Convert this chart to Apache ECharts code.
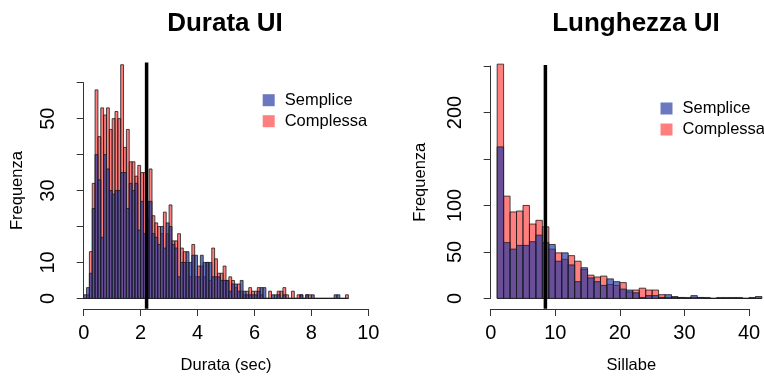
<!DOCTYPE html>
<html>
<head>
<meta charset="utf-8">
<script src="https://cdn.jsdelivr.net/npm/echarts@6/dist/echarts.min.js"></script>
<style>
html,body{margin:0;padding:0;background:#fff;}
#chart{width:764px;height:379px;}
</style>
</head>
<body>
<div id="chart"></div>
<script>
// ---------- DATA ----------
// Durata UI: histogram bins of 0.1 sec starting at 0
const durataBinStart = 0;
const durataBinWidth = 0.1;
const durataSemplice = [1,3,7,25,40,33,17,40,36,30, 29,30,30,35,35,25,32,30,32,19,
  27,18,27,27,18,17,15,20,14,21, 20,15,14,6,10,10,13,10,12,12,
  6,12,10,10,10,6,6,6,5,5, 5,2,4,4,2,5,2,1,1,1,
  1,2,3,3,0,0,1,1,1,0, 1,0,0,0,0,0,1,0,1,0,
  1,0,0,0,0,0,0,0,1,1, 0,0,0];
const durataComplessa = [0,1,13,32,58,45,53,51,53,47, 50,52,50,65,42,47,38,38,34,37,
  35,35,22,36,23,21,20,18,24,18, 26,16,16,18,14,13,10,6,15,6,
  9,9,6,10,5,14,11,7,7,9, 5,6,5,3,4,2,1,2,3,2,
  2,3,1,0,0,2,0,0,2,2, 3,1,0,2,0,1,1,0,1,1,
  0,0,0,0,0,0,0,0,0,0, 0,0,1];
const durataMean = [2.21];

// Lunghezza UI: histogram bins of 1 syllable starting at 1
const sillabeBinStart = 1;
const sillabeBinWidth = 1;
const sillabeSemplice = [163,60,53,57,57,61,68,60,58,40, 49,36,18,33,22,18,14,21,18,10,
  9,6,1,3,3,1,4,1,1,0, 3,1,0,0,1,0,1,0,0,1, 2];
const sillabeComplessa = [252,110,93,94,100,80,84,77,53,49, 42,46,40,31,25,23,24,15,14,17,
  7,9,11,9,9,4,1,2,1,1, 1,1,1,0,0,1,0,1,0,0, 0];
const sillabeMean = [8.47];

// tick labels
const durataXTicks = [0,2,4,6,8,10];
const durataYLabels = [0,10,30,50];
const sillabeXTicks = [0,10,20,30,40];
const sillabeYLabels = [0,50,100,200];

const seriesNames = ['Semplice','Complessa'];
const titles = ['Durata UI','Lunghezza UI'];

// ---------- STYLE / LAYOUT ----------
const FONT = '"Liberation Sans", Arial, sans-serif';
const colSemplice = 'rgba(36,56,162,0.68)';
const colComplessa = 'rgba(255,0,0,0.5)';
const axisCol = '#333';
// vertical extent (data units) of each plot region, for the mean line
const plotYRange = [[-2.9, 65.6], [-11.2, 251]];

function binData(start, width, counts) {
  return counts.map((c, i) => [start + i * width, start + (i + 1) * width, c]);
}

function histSeries(name, idx, data, color) {
  return {
    type: 'custom', name: name, xAxisIndex: idx, yAxisIndex: idx,
    data: data, clip: false, itemStyle: { color: color },
    encode: { x: [0, 1], y: 2 },
    renderItem: function (params, api) {
      const p0 = api.coord([api.value(0), api.value(2)]);
      const p1 = api.coord([api.value(1), 0]);
      return {
        type: 'rect',
        shape: { x: p0[0], y: p0[1], width: p1[0] - p0[0], height: p1[1] - p0[1] },
        style: { fill: api.visual('color'), stroke: '#1c1c1c', lineWidth: 0.8 }
      };
    }
  };
}

function meanSeries(idx, vals) {
  return {
    type: 'custom', name: 'media', xAxisIndex: idx, yAxisIndex: idx,
    data: vals.map(v => [v]), clip: false, silent: true, z: 5,
    renderItem: function (params, api) {
      const a = api.coord([api.value(0), plotYRange[idx][1]]);
      const b = api.coord([api.value(0), plotYRange[idx][0]]);
      return { type: 'line', shape: { x1: a[0], y1: a[1], x2: b[0], y2: b[1] },
        style: { stroke: '#000', lineWidth: 3.5 } };
    }
  };
}

function xAxisCfg(idx, min, max, interval, name, namePad) {
  return {
    gridIndex: idx, type: 'value', min: min, max: max, interval: interval, offset: 10.6,
    axisLine: { show: true, onZero: false, lineStyle: { color: axisCol, width: 1 } },
    axisTick: { show: true, length: 7, lineStyle: { color: axisCol } },
    axisLabel: { fontSize: 20, color: '#000', fontFamily: FONT, margin: 14 },
    splitLine: { show: false },
    name: name, nameLocation: 'middle', nameGap: 48,
    nameTextStyle: { fontSize: 16.5, color: '#000', fontFamily: FONT, padding: namePad }
  };
}

function yAxisCfg(idx, min, max, interval, labels, offset, nameGap) {
  return {
    gridIndex: idx, type: 'value', min: min, max: max, interval: interval, offset: offset,
    axisLine: { show: true, lineStyle: { color: axisCol, width: 1 } },
    axisTick: { show: true, length: 7, lineStyle: { color: axisCol } },
    axisLabel: { fontSize: 20, color: '#000', fontFamily: FONT, margin: 14, rotate: 90,
      hideOverlap: false,
      formatter: v => labels.indexOf(v) >= 0 ? String(v) : '' },
    splitLine: { show: false },
    name: 'Frequenza', nameLocation: 'middle', nameRotate: 90, nameGap: nameGap,
    nameTextStyle: { fontSize: 16.5, color: '#000', fontFamily: FONT }
  };
}

const legendBase = {
  orient: 'vertical', icon: 'rect', itemWidth: 12, itemHeight: 12, itemGap: 4,
  itemStyle: { borderWidth: 0 }, selectedMode: false,
  textStyle: { fontSize: 16.5, color: '#000', fontFamily: FONT, lineHeight: 12, padding: [2, 0, 0, 5] },
  data: seriesNames
};

const chart = echarts.init(document.getElementById('chart'), null, { renderer: 'canvas' });
chart.setOption({
  animation: false,
  backgroundColor: '#fff',
  title: [
    { text: titles[0], left: 225, top: 11, textAlign: 'center', padding: 0,
      textStyle: { fontSize: 26, fontWeight: 'bold', color: '#000', fontFamily: FONT } },
    { text: titles[1], left: 636, top: 11, textAlign: 'center', padding: 0,
      textStyle: { fontSize: 26, fontWeight: 'bold', color: '#000', fontFamily: FONT } }
  ],
  legend: [
    Object.assign({}, legendBase, { left: 262.7, top: 91.7, padding: 0 }),
    Object.assign({}, legendBase, { left: 660.5, top: 100, padding: 0 })
  ],
  grid: [
    { left: 83.7, top: 82.7, width: 284.6, height: 220 },
    { left: 490.7, top: 66, width: 258.3, height: 236.7 }
  ],
  xAxis: [
    xAxisCfg(0, durataXTicks[0], durataXTicks[durataXTicks.length - 1], 2, 'Durata (sec)', [0,0,0,0]),
    xAxisCfg(1, sillabeXTicks[0], sillabeXTicks[sillabeXTicks.length - 1], 10, 'Sillabe', [0,0,0,23])
  ],
  yAxis: [
    yAxisCfg(0, 0, 60, 10, durataYLabels, 11.4, 46),
    yAxisCfg(1, 0, 250, 50, sillabeYLabels, 11.7, 50)
  ],
  series: [
    histSeries('Complessa', 0, binData(durataBinStart, durataBinWidth, durataComplessa), colComplessa),
    histSeries('Semplice', 0, binData(durataBinStart, durataBinWidth, durataSemplice), colSemplice),
    meanSeries(0, durataMean),
    histSeries('Complessa', 1, binData(sillabeBinStart, sillabeBinWidth, sillabeComplessa), colComplessa),
    histSeries('Semplice', 1, binData(sillabeBinStart, sillabeBinWidth, sillabeSemplice), colSemplice),
    meanSeries(1, sillabeMean)
  ]
});
</script>
</body>
</html>
